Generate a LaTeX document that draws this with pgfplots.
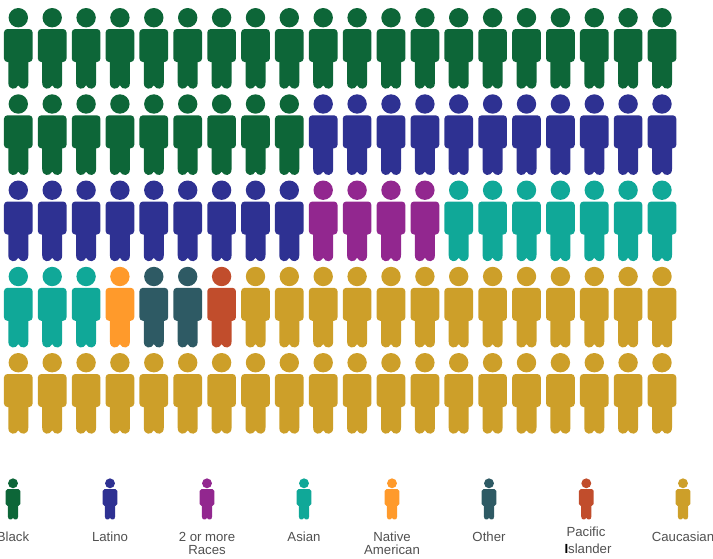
\documentclass[border=0pt]{standalone}
\usepackage{pgfplots}
\pgfplotsset{compat=1.18}
\usepackage{fontspec}
\setmainfont{Liberation Sans}
\definecolor{cBlack}{HTML}{0D6638}
\definecolor{cLatino}{HTML}{2E3192}
\definecolor{cMulti}{HTML}{92278F}
\definecolor{cAsian}{HTML}{10A898}
\definecolor{cNative}{HTML}{FF9A2B}
\definecolor{cOther}{HTML}{2E5A64}
\definecolor{cPacific}{HTML}{C14D2C}
\definecolor{cCauc}{HTML}{CD9F29}
\definecolor{txt}{HTML}{505050}
\tikzset{lab/.style={anchor=base, text=txt, font=\fontsize{13.2}{13.2}\selectfont, inner sep=0pt}}
\pgfdeclareplotmark{person}{%
  \pgfpathcircle{\pgfpointorigin}{9.7pt}%
  \pgfusepathqfill
  % body with rounded corners
  \pgfpathmoveto{\pgfpoint{-10.85pt}{-11.3pt}}%
  \pgfpathlineto{\pgfpoint{10.85pt}{-11.3pt}}%
  \pgfpathcurveto{\pgfpoint{12.8pt}{-11.3pt}}{\pgfpoint{14.35pt}{-12.85pt}}{\pgfpoint{14.35pt}{-14.8pt}}%
  \pgfpathlineto{\pgfpoint{14.35pt}{-40.8pt}}%
  \pgfpathcurveto{\pgfpoint{14.35pt}{-42.75pt}}{\pgfpoint{12.8pt}{-44.3pt}}{\pgfpoint{10.85pt}{-44.3pt}}%
  \pgfpathlineto{\pgfpoint{-10.85pt}{-44.3pt}}%
  \pgfpathcurveto{\pgfpoint{-12.8pt}{-44.3pt}}{\pgfpoint{-14.35pt}{-42.75pt}}{\pgfpoint{-14.35pt}{-40.8pt}}%
  \pgfpathlineto{\pgfpoint{-14.35pt}{-14.8pt}}%
  \pgfpathcurveto{\pgfpoint{-14.35pt}{-12.85pt}}{\pgfpoint{-12.8pt}{-11.3pt}}{\pgfpoint{-10.85pt}{-11.3pt}}%
  \pgfpathclose
  \pgfusepathqfill
  % legs
  \pgfpathmoveto{\pgfpoint{-10pt}{-40pt}}%
  \pgfpathlineto{\pgfpoint{10pt}{-40pt}}%
  \pgfpathlineto{\pgfpoint{10pt}{-65pt}}%
  \pgfpathcurveto{\pgfpoint{10pt}{-72.5pt}}{\pgfpoint{2.2pt}{-72.5pt}}{\pgfpoint{0pt}{-67.6pt}}%
  \pgfpathcurveto{\pgfpoint{-2.2pt}{-72.5pt}}{\pgfpoint{-10pt}{-72.5pt}}{\pgfpoint{-10pt}{-65pt}}%
  \pgfpathclose
  \pgfusepathqfill
}
\begin{document}
\begin{tikzpicture}
\useasboundingbox (0,0) rectangle (713pt,558pt);
\clip (0,0) rectangle (713pt,558pt);
\begin{axis}[
  scale only axis, width=713pt, height=558pt,
  xmin=0, xmax=713, ymin=0, ymax=558, y dir=reverse,
  hide axis, clip=false,
  every axis plot/.append style={only marks, mark=person},
]
% Pictogram: 100 people, 5 rows of 20
\addplot[mark options={fill=cBlack, draw=none}] coordinates {
(18.3,17.7)(52.2,17.7)(86.1,17.7)(119.9,17.7)(153.8,17.7)(187.7,17.7)(221.6,17.7)(255.5,17.7)(289.3,17.7)(323.2,17.7)
(357.1,17.7)(391,17.7)(424.9,17.7)(458.7,17.7)(492.6,17.7)(526.5,17.7)(560.4,17.7)(594.3,17.7)(628.1,17.7)(662,17.7)
(18.3,104)(52.2,104)(86.1,104)(119.9,104)(153.8,104)(187.7,104)(221.6,104)(255.5,104)(289.3,104)};
\addplot[mark options={fill=cLatino, draw=none}] coordinates {
(323.2,104)(357.1,104)(391,104)(424.9,104)(458.7,104)(492.6,104)(526.5,104)(560.4,104)(594.3,104)(628.1,104)(662,104)
(18.3,190.2)(52.2,190.2)(86.1,190.2)(119.9,190.2)(153.8,190.2)(187.7,190.2)(221.6,190.2)(255.5,190.2)(289.3,190.2)};
\addplot[mark options={fill=cMulti, draw=none}] coordinates {
(323.2,190.2)(357.1,190.2)(391,190.2)(424.9,190.2)};
\addplot[mark options={fill=cAsian, draw=none}] coordinates {
(458.7,190.2)(492.6,190.2)(526.5,190.2)(560.4,190.2)(594.3,190.2)(628.1,190.2)(662,190.2)
(18.3,276.5)(52.2,276.5)(86.1,276.5)};
\addplot[mark options={fill=cNative, draw=none}] coordinates {(119.9,276.5)};
\addplot[mark options={fill=cOther, draw=none}] coordinates {(153.8,276.5)(187.7,276.5)};
\addplot[mark options={fill=cPacific, draw=none}] coordinates {(221.6,276.5)};
\addplot[mark options={fill=cCauc, draw=none}] coordinates {
(255.5,276.5)(289.3,276.5)(323.2,276.5)(357.1,276.5)(391,276.5)(424.9,276.5)(458.7,276.5)(492.6,276.5)(526.5,276.5)(560.4,276.5)(594.3,276.5)(628.1,276.5)(662,276.5)
(18.3,362.7)(52.2,362.7)(86.1,362.7)(119.9,362.7)(153.8,362.7)(187.7,362.7)(221.6,362.7)(255.5,362.7)(289.3,362.7)(323.2,362.7)
(357.1,362.7)(391,362.7)(424.9,362.7)(458.7,362.7)(492.6,362.7)(526.5,362.7)(560.4,362.7)(594.3,362.7)(628.1,362.7)(662,362.7)};
% Legend icons
\addplot[mark options={fill=cBlack, draw=none, scale=.51}] coordinates {(13,483.3)};
\addplot[mark options={fill=cLatino, draw=none, scale=.51}] coordinates {(110,483.3)};
\addplot[mark options={fill=cMulti, draw=none, scale=.51}] coordinates {(207,483.3)};
\addplot[mark options={fill=cAsian, draw=none, scale=.51}] coordinates {(304,483.3)};
\addplot[mark options={fill=cNative, draw=none, scale=.51}] coordinates {(392,483.3)};
\addplot[mark options={fill=cOther, draw=none, scale=.51}] coordinates {(489,483.3)};
\addplot[mark options={fill=cPacific, draw=none, scale=.51}] coordinates {(586.3,483.3)};
\addplot[mark options={fill=cCauc, draw=none, scale=.51}] coordinates {(683,483.3)};
% Legend labels
\node[lab] at (axis cs:13,541.7) {Black};
\node[lab] at (axis cs:110,541.7) {Latino};
\node[lab] at (axis cs:207,541.7) {2 or more};
\node[lab] at (axis cs:207,554) {Races};
\node[lab] at (axis cs:304,541.7) {Asian};
\node[lab] at (axis cs:392,541.7) {Native};
\node[lab] at (axis cs:392,554) {American};
\node[lab] at (axis cs:489,541.7) {Other};
\node[lab] at (axis cs:586,536) {Pacific};
\node[lab] at (axis cs:588,553) {{\bfseries\color{black}I}slander};
\node[lab] at (axis cs:683,541.7) {Caucasian};
\end{axis}
\end{tikzpicture}
\end{document}
